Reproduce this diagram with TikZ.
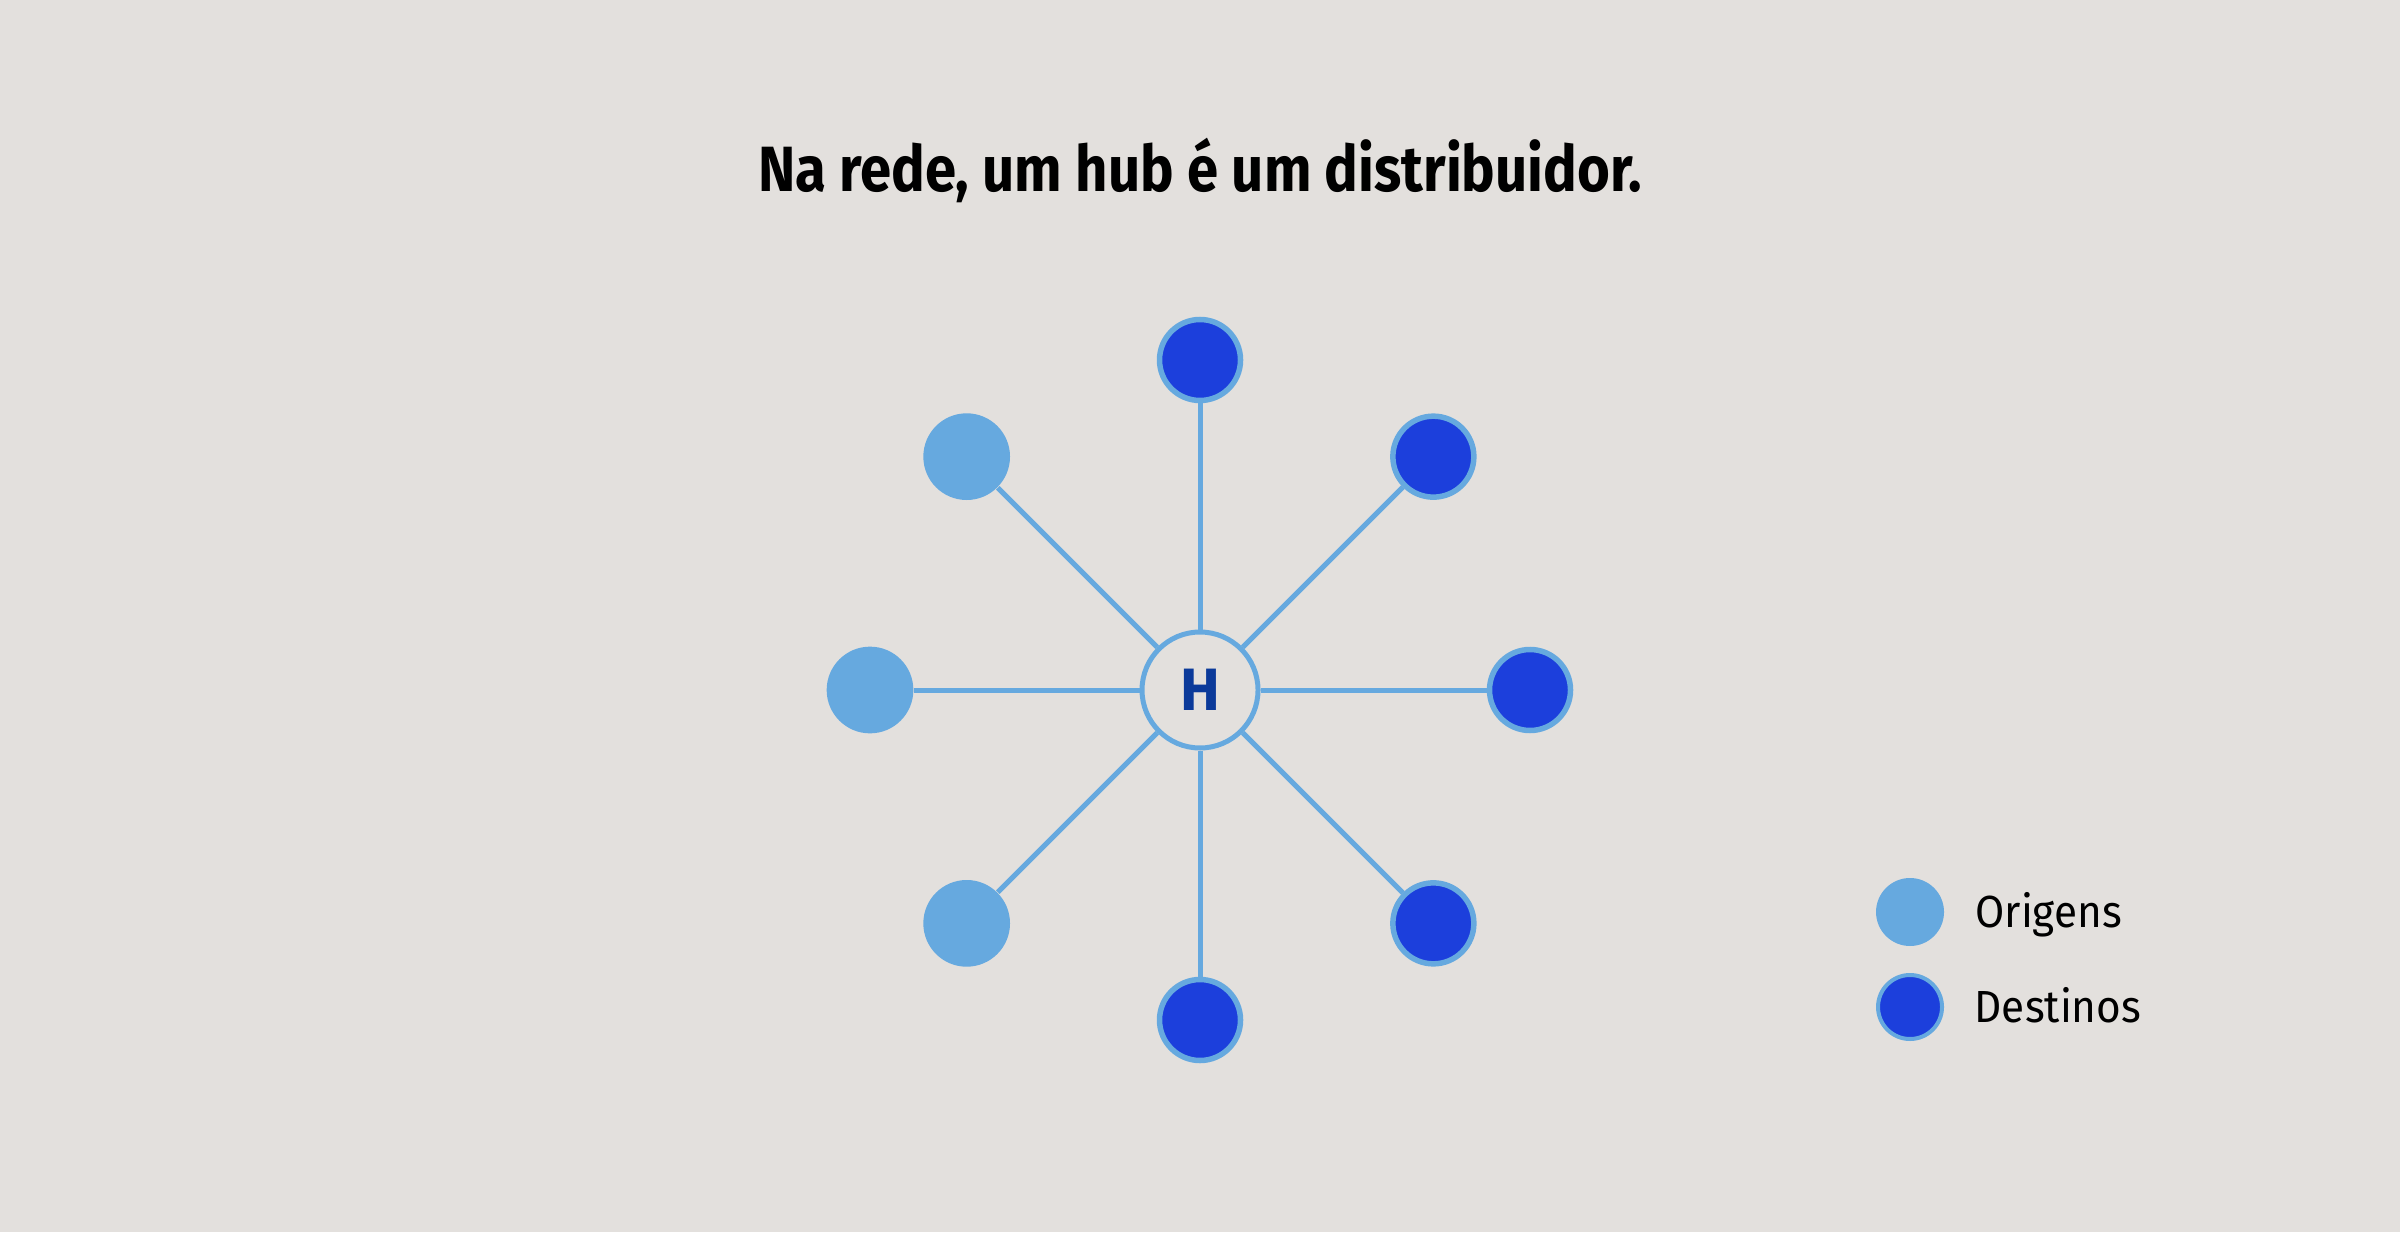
\documentclass[tikz,border=0pt]{standalone}
\usepackage{fontspec}
\setmainfont{Fira Sans}
\newfontfamily\headfont{Fira Sans}[FakeStretch=0.88]
\newfontfamily\legfont{Fira Sans}[FakeStretch=0.94]
\usetikzlibrary{positioning}

\definecolor{paper}{HTML}{E3E0DD}
\definecolor{sky}{HTML}{66A9DF}
\definecolor{royal}{HTML}{1C3FDC}
\definecolor{navy}{HTML}{0B3A9A}

\begin{document}
\begin{tikzpicture}
			\tikzstyle{Origin}	= [circle, fill=sky, minimum size=8.67mm, inner sep=0pt]
			\tikzstyle{Dest}	= [circle, draw=sky, line width=0.55mm, fill=royal, minimum size=8.1mm, inner sep=0pt]
			\tikzstyle{Hub}		= [circle, draw=sky, line width=0.5mm, fill=paper, minimum size=11.6mm, inner sep=0pt]
			\tikzstyle{Link}	= [sky, line width=0.5mm]
			\tikzstyle{Legend}	= [inner sep=0pt, font=\legfont\fontsize{12.8}{15}\selectfont]

			\fill [paper] (0,0) rectangle (24,12.32);
			\useasboundingbox (0,0) rectangle (24,12.32);

			\node (title) at (12, 10.40) [anchor=base, inner sep=0pt, font=\headfont\bfseries\fontsize{18.2}{22}\selectfont] {Na rede, um hub é um distribuidor.};

			\begin{scope}[shift={(12,5.42)}]
				\node (hub) at (0,0) [Hub, text=navy, font=\bfseries\fontsize{17}{20}\selectfont] {H};
				\foreach \n/\a in {1/135, 2/180, 3/225}
					\node (o\n) at (\a:3.3) [Origin] {};
				\foreach \n/\a in {1/90, 2/45, 3/0, 4/-45, 5/-90}
					\node (d\n) at (\a:3.3) [Dest] {};
			\end{scope}
			\foreach \n in {1,2,3}
				\draw [-] (hub) to (o\n) [Link];
			\foreach \n in {1,...,5}
				\draw [-] (hub) to (d\n) [Link];

			\node (lo) at (19.10, 3.20) [Origin, minimum size=6.8mm] {};
			\node (ld) at (19.10, 2.25) [Dest, minimum size=6.4mm, line width=0.4mm] {};
			\node (lotext) [right=3mm of lo, anchor=base west, yshift=-1.55mm, Legend] {Origens};
			\node (ldtext) [right=3mm of ld, anchor=base west, yshift=-1.55mm, Legend] {Destinos};
		\end{tikzpicture}
\end{document}
